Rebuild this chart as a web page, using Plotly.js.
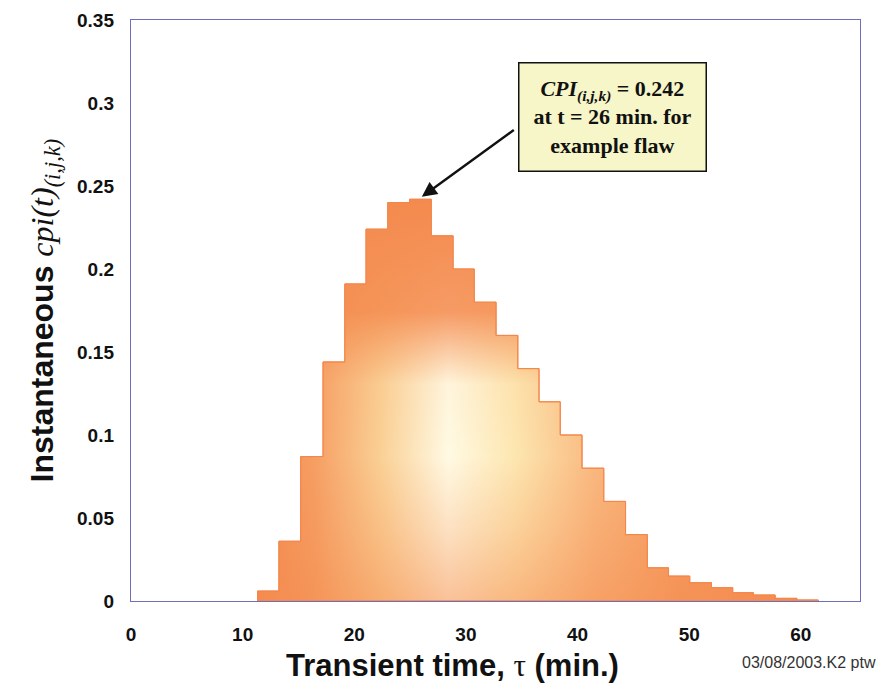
<!DOCTYPE html>
<html>
<head>
<meta charset="utf-8">
<script src="https://cdn.plot.ly/plotly-3.0.1.min.js"></script>
<style>html,body{margin:0;padding:0;background:#fff;}#chart{width:882px;height:692px;}</style>
</head>
<body>
<div id="chart"></div>
<script>
// Bin centres (transient time, min.)
var tau = [12.3, 14.2, 16.2, 18.2, 20.1, 22.0, 24.0, 25.9, 27.9, 29.8, 31.7, 33.7, 35.6,
           37.5, 39.4, 41.4, 43.3, 45.3, 47.2, 49.1, 51.0, 53.0, 54.8, 56.7, 58.7, 60.6];
// Instantaneous cpi(t) for each bin
var cpi = [0.006, 0.036, 0.087, 0.144, 0.191, 0.224, 0.240, 0.242, 0.220, 0.200, 0.180, 0.160, 0.140,
           0.120, 0.100, 0.080, 0.060, 0.040, 0.020, 0.015, 0.011, 0.008, 0.005, 0.0036, 0.0016, 0.0006];
var xTicks = [0, 10, 20, 30, 40, 50, 60];
var yTicks = [0, 0.05, 0.1, 0.15, 0.2, 0.25, 0.3, 0.35];
var yTickText = ['0', '0.05', '0.1', '0.15', '0.2', '0.25', '0.3', '0.35'];

var binWidth = 1.93;

// Build a stepped outline (histogram) from the bin arrays
var edges = [tau[0] - binWidth / 2];
for (var i = 1; i < tau.length; i++) edges.push((tau[i - 1] + tau[i]) / 2);
edges.push(tau[tau.length - 1] + binWidth / 2);
var sx = [edges[0]], sy = [0];
for (var j = 0; j < cpi.length; j++) {
  sx.push(edges[j]); sy.push(cpi[j]);
  sx.push(edges[j + 1]); sy.push(cpi[j]);
}
sx.push(edges[edges.length - 1]); sy.push(0);
sx.push(edges[0]); sy.push(0);

var traceGlow = {
  type: 'scatter', mode: 'lines', x: sx, y: sy, fill: 'toself',
  line: {color: '#F3874B', width: 1},
  fillgradient: {
    type: 'horizontal', start: edges[0], stop: edges[edges.length - 1],
    colorscale: [[0, '#F48A4E'], [0.1, '#F69E63'], [0.22, '#FAD095'], [0.34, '#FFFAE4'],
                 [0.46, '#FDE6B0'], [0.6, '#F9B980'], [0.75, '#F69C60'], [1, '#F48A4E']]
  },
  hoverinfo: 'skip', showlegend: false
};
var traceShade = {
  type: 'scatter', mode: 'lines', x: sx, y: sy, fill: 'toself',
  line: {color: '#F3874B', width: 1},
  fillgradient: {
    type: 'vertical', start: 0, stop: 0.242,
    colorscale: [[0, 'rgba(244,138,78,0.5)'], [0.18, 'rgba(244,138,78,0.22)'], [0.36, 'rgba(244,138,78,0)'],
                 [0.54, 'rgba(244,138,78,0.05)'], [0.72, 'rgba(244,138,78,0.85)'], [1, 'rgba(244,138,78,1)']]
  },
  hoverinfo: 'skip', showlegend: false
};

var axisLine = '#6E6EBE';
var tickFont = {family: 'Liberation Sans, Arial', size: 19, color: '#111', weight: 'bold'};

var layout = {
  width: 882, height: 692,
  margin: {l: 131, r: 22, t: 20, b: 91},
  paper_bgcolor: '#fff', plot_bgcolor: '#fff',
  showlegend: false,
  xaxis: {
    range: [0, 65.3], tickvals: xTicks, ticktext: xTicks.map(String),
    showgrid: false, zeroline: false, showline: true, linecolor: axisLine, linewidth: 1.2, mirror: true,
    ticks: '', ticklabelstandoff: 16, tickfont: tickFont
  },
  yaxis: {
    range: [0, 0.35], tickvals: yTicks, ticktext: yTickText,
    showgrid: false, zeroline: false, showline: true, linecolor: axisLine, linewidth: 1.2, mirror: true,
    ticks: '', ticklabelstandoff: 12, tickfont: tickFont
  },
  annotations: [
    {
      xref: 'paper', yref: 'paper', x: -0.118, y: 0.5, xanchor: 'center', yanchor: 'middle',
      textangle: -90, showarrow: false,
      text: "<b>Instantaneous </b><span style='font-family:Liberation Serif'><i>cpi(t)</i></span><sub><span style='font-family:Liberation Serif'><i>(i,j,k)</i></span></sub>",
      font: {family: 'Liberation Sans, Arial', size: 32, color: '#111'}
    },
    {
      xref: 'paper', yref: 'paper', x: (452 - 131) / 729, y: -(665 - 601) / 581, xanchor: 'center', yanchor: 'middle',
      showarrow: false,
      text: "<b>Transient time, </b><span style='font-family:Liberation Serif'>τ</span><b> (min.)</b>",
      font: {family: 'Liberation Sans, Arial', size: 31, color: '#111'}
    },
    {
      xref: 'paper', yref: 'paper', x: (878 - 131) / 729, y: -(662 - 601) / 581, xanchor: 'right', yanchor: 'middle',
      showarrow: false, text: '03/08/2003.K2 ptw',
      font: {family: 'Liberation Sans, Arial', size: 16, color: '#333'}
    },
    {
      xref: 'x', yref: 'y', x: 26.05, y: 0.2435, ax: 95, ay: -69, text: ' ',
      showarrow: true, arrowhead: 2, arrowsize: 1.25, arrowwidth: 2.4, arrowcolor: '#111', standoff: 0
    },
    {
      xref: 'x', yref: 'y', x: 43.1, y: 0.2916, xanchor: 'center', yanchor: 'middle', showarrow: false,
      text: "<i>CPI</i><sub><i>(i,j,k)</i></sub> = 0.242<br>at t = 26 min. for<br>example flaw",
      font: {family: 'Liberation Serif, Times New Roman, serif', size: 22, color: '#111', weight: 'bold'},
      bgcolor: '#F6F6C8', bordercolor: '#111', borderwidth: 1.5, borderpad: 5,
      width: 176, height: 97, align: 'center'
    }
  ]
};

Plotly.newPlot('chart', [traceGlow, traceShade], layout, {staticPlot: true, displayModeBar: false});
</script>
</body>
</html>
